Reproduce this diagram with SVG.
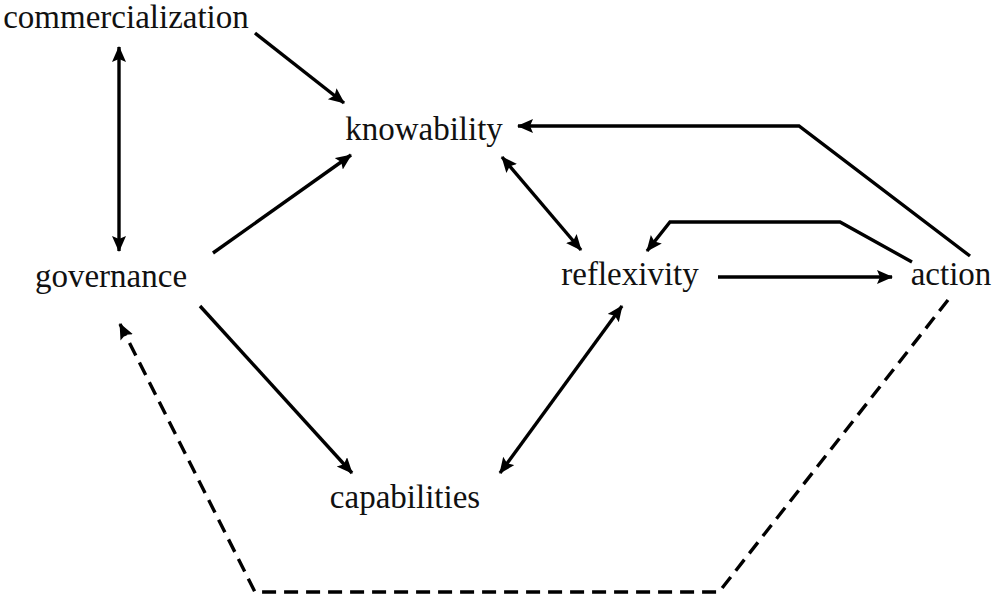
<svg xmlns="http://www.w3.org/2000/svg" width="994" height="598" viewBox="0 0 994 598">
<style>
.lbl{font-family:"Liberation Serif","Times New Roman",serif;font-size:33px;fill:#111;text-anchor:middle}
.c{fill:none;stroke:#000;stroke-width:3.4;stroke-linejoin:miter}
.d{stroke-dasharray:14 8}
</style>
<defs>
<marker id="ah" markerUnits="userSpaceOnUse" markerWidth="18" markerHeight="16" refX="15" refY="7" orient="auto-start-reverse">
<path d="M0,0 L16,7 L0,14 L3,7 Z" fill="#000"/>
</marker>
</defs>
<rect width="994" height="598" fill="#fff"/>
<g id="connectors">
<line class="c" x1="119" y1="47" x2="119" y2="251" marker-start="url(#ah)" marker-end="url(#ah)"/>
<line class="c" x1="255" y1="33" x2="344" y2="103" marker-end="url(#ah)"/>
<line class="c" x1="213" y1="253" x2="351" y2="155" marker-end="url(#ah)"/>
<line class="c" x1="502" y1="157" x2="581" y2="250" marker-start="url(#ah)" marker-end="url(#ah)"/>
<polyline class="c" points="970,256 799,126 518,126" marker-end="url(#ah)"/>
<polyline class="c" points="912,262 840,222 670,222 647,251" marker-end="url(#ah)"/>
<line class="c" x1="718" y1="277" x2="892" y2="277" marker-end="url(#ah)"/>
<line class="c" x1="622" y1="306" x2="500" y2="473" marker-start="url(#ah)" marker-end="url(#ah)"/>
<line class="c" x1="200" y1="306" x2="352" y2="473" marker-end="url(#ah)"/>
<polyline class="c d" points="948,300 719,592 255,592 120,324" marker-end="url(#ah)"/>
</g>
<g id="commercialization"><text class="lbl" x="126" y="28">commercialization</text></g>
<g id="knowability"><text class="lbl" x="424" y="140">knowability</text></g>
<g id="governance"><text class="lbl" x="111" y="287">governance</text></g>
<g id="reflexivity"><text class="lbl" x="630" y="285">reflexivity</text></g>
<g id="action"><text class="lbl" x="951" y="285">action</text></g>
<g id="capabilities"><text class="lbl" x="405" y="508">capabilities</text></g>
</svg>
